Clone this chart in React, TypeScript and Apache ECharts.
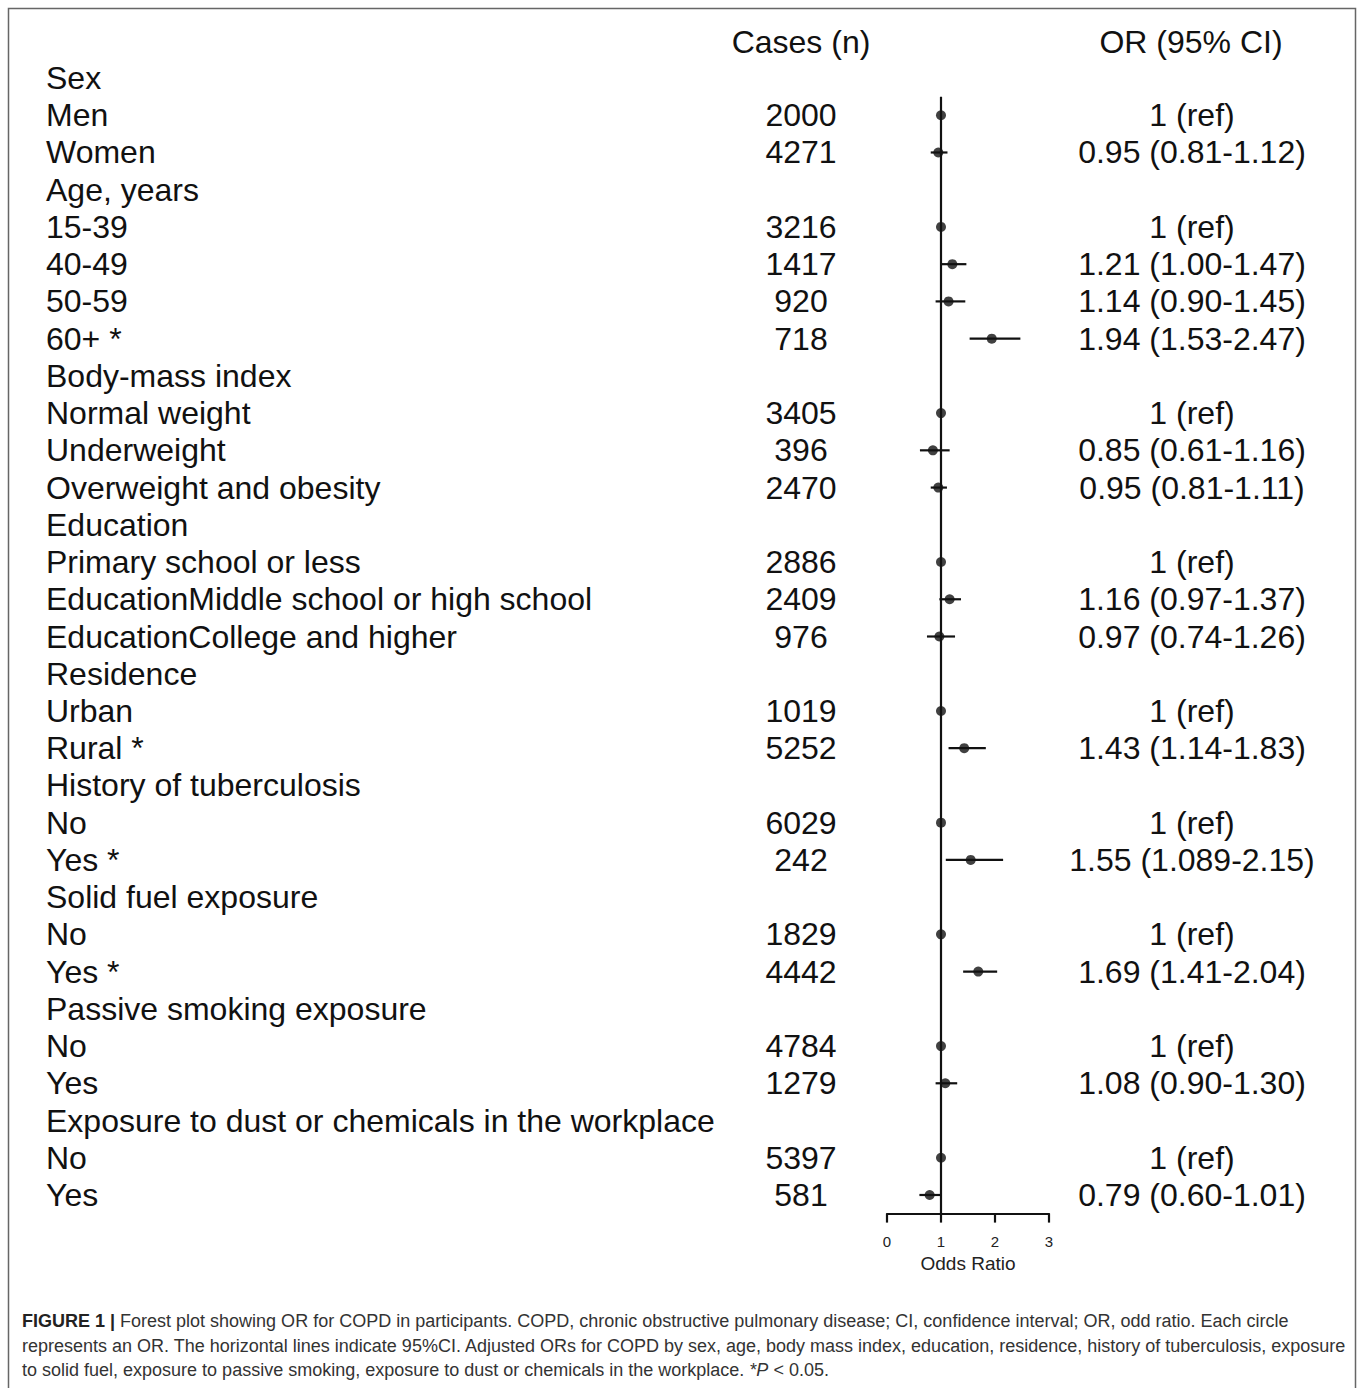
import React, { useEffect, useRef } from "react";
import * as echarts from "echarts";

const rowLabels = [
  "Sex", "Men", "Women",
  "Age, years", "15-39", "40-49", "50-59", "60+ *",
  "Body-mass index", "Normal weight", "Underweight", "Overweight and obesity",
  "Education", "Primary school or less", "EducationMiddle school or high school", "EducationCollege and higher",
  "Residence", "Urban", "Rural *",
  "History of tuberculosis", "No", "Yes *",
  "Solid fuel exposure", "No", "Yes *",
  "Passive smoking exposure", "No", "Yes",
  "Exposure to dust or chemicals in the workplace", "No", "Yes",
];

const caseCounts = [
  "", "2000", "4271",
  "", "3216", "1417", "920", "718",
  "", "3405", "396", "2470",
  "", "2886", "2409", "976",
  "", "1019", "5252",
  "", "6029", "242",
  "", "1829", "4442",
  "", "4784", "1279",
  "", "5397", "581",
];

const orLabels = [
  "", "1 (ref)", "0.95 (0.81-1.12)",
  "", "1 (ref)", "1.21 (1.00-1.47)", "1.14 (0.90-1.45)", "1.94 (1.53-2.47)",
  "", "1 (ref)", "0.85 (0.61-1.16)", "0.95 (0.81-1.11)",
  "", "1 (ref)", "1.16 (0.97-1.37)", "0.97 (0.74-1.26)",
  "", "1 (ref)", "1.43 (1.14-1.83)",
  "", "1 (ref)", "1.55 (1.089-2.15)",
  "", "1 (ref)", "1.69 (1.41-2.04)",
  "", "1 (ref)", "1.08 (0.90-1.30)",
  "", "1 (ref)", "0.79 (0.60-1.01)",
];

const orEstimates: (number | null)[] = [
  null, 1, 0.95,
  null, 1, 1.21, 1.14, 1.94,
  null, 1, 0.85, 0.95,
  null, 1, 1.16, 0.97,
  null, 1, 1.43,
  null, 1, 1.55,
  null, 1, 1.69,
  null, 1, 1.08,
  null, 1, 0.79,
];

const ciLower: (number | null)[] = [
  null, null, 0.81,
  null, null, 1.0, 0.9, 1.53,
  null, null, 0.61, 0.81,
  null, null, 0.97, 0.74,
  null, null, 1.14,
  null, null, 1.089,
  null, null, 1.41,
  null, null, 0.9,
  null, null, 0.6,
];

const ciUpper: (number | null)[] = [
  null, null, 1.12,
  null, null, 1.47, 1.45, 2.47,
  null, null, 1.16, 1.11,
  null, null, 1.37, 1.26,
  null, null, 1.83,
  null, null, 2.15,
  null, null, 2.04,
  null, null, 1.3,
  null, null, 1.01,
];

const xTicks = [0, 1, 2, 3];
const referenceOR = 1;

const captionLines = [
  "Forest plot showing OR for COPD in participants. COPD, chronic obstructive pulmonary disease; CI, confidence interval; OR, odd ratio. Each circle",
  "represents an OR. The horizontal lines indicate 95%CI. Adjusted ORs for COPD by sex, age, body mass index, education, residence, history of tuberculosis, exposure",
  "to solid fuel, exposure to passive smoking, exposure to dust or chemicals in the workplace. ",
];

const FONT = "'Liberation Sans', Arial, Helvetica, sans-serif";

export default function App() {
  const ref = useRef<HTMLDivElement>(null);
  useEffect(() => {
    if (!ref.current) return;
    const chart = echarts.init(ref.current, undefined, { renderer: "svg" });
    const rowIds = rowLabels.map((_, i) => String(i));
    const n = rowLabels.length;

    const points = orEstimates
      .map((v, i) => (v == null ? null : [v, i]))
      .filter((d) => d) as number[][];
    const cis = ciLower
      .map((lo, i) => (lo == null || ciUpper[i] == null ? null : [lo, ciUpper[i] as number, i]))
      .filter((d) => d) as number[][];

    const labelAxisBase = {
      type: "category" as const,
      data: rowIds,
      inverse: true,
      axisLine: { show: false },
      axisTick: { show: false },
      splitLine: { show: false },
    };

    chart.setOption({
      animation: false,
      backgroundColor: "#ffffff",
      grid: { left: 887, width: 162, top: 59.4, height: 1154.2, containLabel: false },
      xAxis: {
        type: "value",
        min: 0,
        max: 3,
        interval: 1,
        position: "bottom",
        axisLine: { show: true, onZero: false, lineStyle: { color: "#111", width: 2.2 } },
        axisTick: { show: true, length: 9, lineStyle: { color: "#111", width: 2.2 } },
        splitLine: { show: false },
        axisLabel: {
          fontSize: 15,
          margin: 20,
          color: "#222",
          fontFamily: FONT,
          formatter: (v: number) => (xTicks.includes(v) ? String(v) : ""),
        },
        name: "Odds Ratio",
        nameLocation: "middle",
        nameGap: 40,
        nameTextStyle: { fontSize: 19, color: "#222", fontFamily: FONT },
      },
      yAxis: [
        {
          ...labelAxisBase,
          position: "left",
          axisLabel: {
            interval: 0,
            align: "left",
            margin: 841,
            fontSize: 32,
            color: "#111",
            fontFamily: FONT,
            formatter: (_: string, i: number) => rowLabels[i],
          },
        },
        {
          ...labelAxisBase,
          position: "left",
          axisLabel: {
            interval: 0,
            align: "center",
            margin: 86,
            fontSize: 32,
            color: "#111",
            fontFamily: FONT,
            formatter: (_: string, i: number) => caseCounts[i],
          },
        },
        {
          ...labelAxisBase,
          position: "right",
          axisLabel: {
            interval: 0,
            align: "center",
            margin: 143,
            fontSize: 32,
            color: "#111",
            fontFamily: FONT,
            formatter: (_: string, i: number) => orLabels[i],
          },
        },
        {
          type: "value",
          min: -0.5,
          max: n - 0.5,
          inverse: true,
          show: false,
          splitLine: { show: false },
        },
      ],
      series: [
        {
          type: "line",
          yAxisIndex: 3,
          data: [
            [referenceOR, 0.5],
            [referenceOR, n - 0.5],
          ],
          symbol: "none",
          lineStyle: { color: "#111", width: 2.2 },
          silent: true,
        },
        {
          type: "custom",
          yAxisIndex: 3,
          data: cis,
          encode: { x: [0, 1], y: 2 },
          renderItem: (params: any, api: any) => {
            const p1 = api.coord([api.value(0), api.value(2)]);
            const p2 = api.coord([api.value(1), api.value(2)]);
            return {
              type: "line",
              shape: { x1: p1[0], y1: p1[1], x2: p2[0], y2: p2[1] },
              style: { stroke: "#111", lineWidth: 2.2 },
            };
          },
          silent: true,
        },
        {
          type: "scatter",
          yAxisIndex: 3,
          data: points,
          symbol: "circle",
          symbolSize: 10,
          itemStyle: { color: "#111" },
          silent: true,
        },
      ],
      graphic: [
        {
          type: "rect",
          shape: { x: 8.5, y: 8.5, width: 1347, height: 1420 },
          style: { fill: "none", stroke: "#666", lineWidth: 1.5 },
          silent: true,
        },
        {
          type: "text",
          x: 801,
          y: 42,
          style: {
            text: "Cases (n)",
            fontSize: 32,
            fontFamily: FONT,
            fill: "#111",
            textAlign: "center",
            textVerticalAlign: "middle",
          },
        },
        {
          type: "text",
          x: 1191,
          y: 42,
          style: {
            text: "OR (95% CI)",
            fontSize: 32,
            fontFamily: FONT,
            fill: "#111",
            textAlign: "center",
            textVerticalAlign: "middle",
          },
        },
        {
          type: "text",
          x: 22,
          y: 1321,
          style: {
            text: "{b|FIGURE 1 |} {r|" + captionLines[0] + "}",
            rich: {
              b: { fontSize: 18, fontWeight: "bold", fontFamily: FONT, fill: "#222" },
              r: { fontSize: 18, fontFamily: FONT, fill: "#333" },
            },
            fontSize: 18,
            fontFamily: FONT,
            fill: "#333",
            textVerticalAlign: "middle",
          },
        },
        {
          type: "text",
          x: 22,
          y: 1346,
          style: {
            text: captionLines[1],
            fontSize: 18,
            fontFamily: FONT,
            fill: "#333",
            textVerticalAlign: "middle",
          },
        },
        {
          type: "text",
          x: 22,
          y: 1370,
          style: {
            text: "{r|" + captionLines[2] + "}{i|*P} {r|< 0.05.}",
            rich: {
              r: { fontSize: 18, fontFamily: FONT, fill: "#333" },
              i: { fontSize: 18, fontFamily: FONT, fontStyle: "italic", fill: "#333" },
            },
            fontSize: 18,
            fontFamily: FONT,
            fill: "#333",
            textVerticalAlign: "middle",
          },
        },
      ],
    });
    return () => chart.dispose();
  }, []);
  return (
    <div
      ref={ref}
      style={{ position: "absolute", left: 0, top: 0, width: 1360, height: 1388 }}
    />
  );
}
